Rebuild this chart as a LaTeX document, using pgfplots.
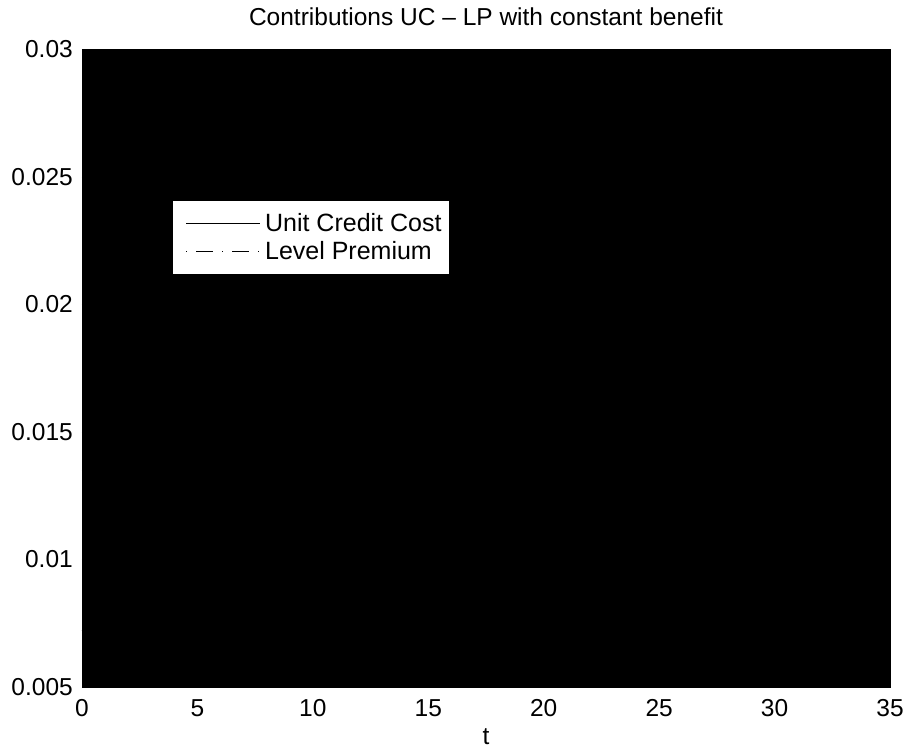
\documentclass[border=0pt]{standalone}
\usepackage{pgfplots}
\pgfplotsset{compat=1.18}
\usepackage{fontspec}
\setmainfont{Liberation Sans}
\begin{document}
\begin{tikzpicture}[font=\fontsize{24.5}{29}\selectfont]
\begin{axis}[
  at={(0pt,0pt)}, anchor=south west,
  scale only axis,
  width=808pt, height=638pt,
  xmin=0, xmax=35, ymin=0.005, ymax=0.03,
  axis background/.style={fill=black},
  axis line style={black},
  xtick={0,5,10,15,20,25,30,35},
  xticklabels={0,5,10,15,20,25,30,35},
  ytick={0.005,0.01,0.015,0.02,0.025,0.03},
  yticklabels={0.005,0.01,0.015,0.02,0.025,0.03},
  /pgf/number format/assume math mode=true,
  scaled y ticks=false,
  tick pos=both,
  major tick length=8pt,
  tick style={black},
  xticklabel style={inner sep=0pt, anchor=north, yshift=-12pt},
  yticklabel style={inner sep=0pt, anchor=east, xshift=-9pt},
  title={Contributions UC – LP with constant benefit},
  title style={at={(axis description cs:0.5,1)}, anchor=base, yshift=18pt, inner sep=0pt},
  xlabel={t},
  xlabel style={at={(axis description cs:0.5,0)}, anchor=base, yshift=-57pt, inner sep=0pt},
  legend style={
    at={(axis description cs:0.11139,0.76332)}, anchor=north west,
    fill=white, draw=black,
    inner xsep=3pt, inner ysep=8.5pt,
    row sep=0pt,
    nodes={inner xsep=4.5pt, inner ysep=4.5pt},
    font=\fontsize{25}{30}\selectfont,
  },
  legend cell align=left,
  legend image code/.code={\path[draw=none] (0pt,0pt) -- (85pt,0pt);\draw[#1] (11pt,0pt) -- (85pt,0pt);},
]
\addplot[black, line width=0.8pt] coordinates {
  (0,0.0072) (2,0.0077) (4,0.0082) (6,0.0088) (8,0.0094) (10,0.0101)
  (12,0.0108) (14,0.0116) (16,0.0124) (18,0.0133) (20,0.0143)
  (22,0.0153) (24,0.0164) (26,0.0176) (28,0.0189) (30,0.0203)
  (32,0.0218) (34,0.0234) (35,0.0242)
};
\addlegendentry{Unit Credit Cost}
\addplot[black, line width=0.8pt, dash pattern=on 1pt off 9pt on 17pt off 9pt] coordinates {
  (0,0.0135) (5,0.0135) (10,0.0135) (15,0.0135) (20,0.0135)
  (25,0.0135) (30,0.0135) (35,0.0135)
};
\addlegendentry{Level Premium}
\end{axis}
\path (-82pt,-61pt) rectangle (827pt,687pt);
\end{tikzpicture}
\end{document}
